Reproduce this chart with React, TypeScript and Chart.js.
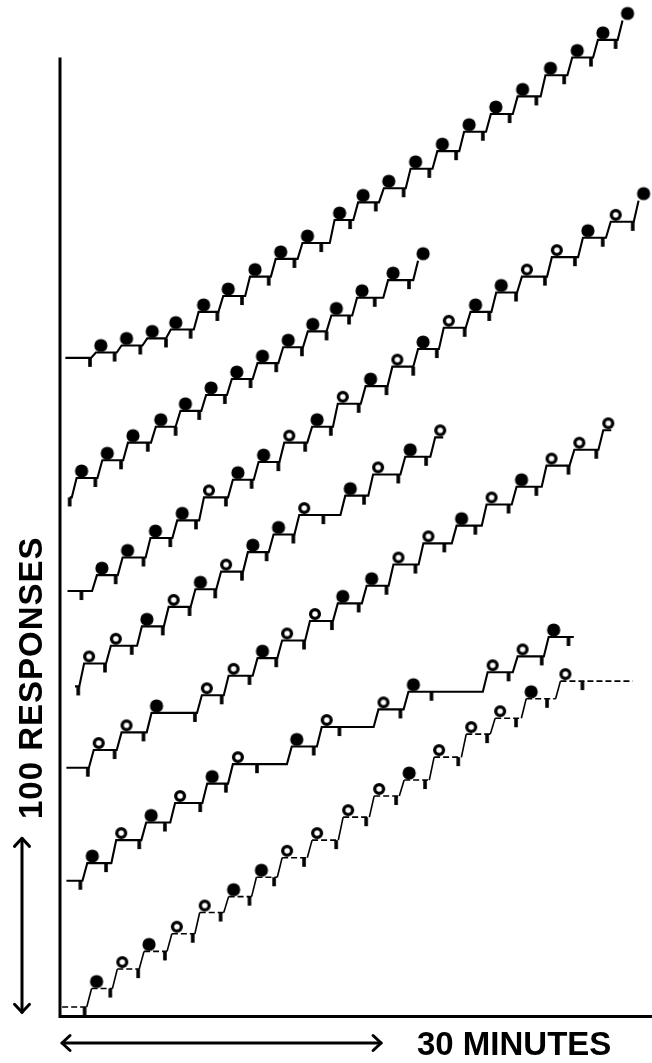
import React, { useEffect, useRef } from 'react';
import { Chart, registerables } from 'chart.js';

Chart.register(...registerables);

// ---- Cumulative records: time in minutes, cumulative responses ----
// Each record: start point, then steps (rise start time, level after rise, marker kind), pips (time)
const START_X = [0.5, 0.9, 0.7, 1.4, 0.6, 0.6, 0.2];
const START_LEVEL = [372, 293, 240, 186, 140, 76, 4.5];
const START_PIP = [2.8, 0.9, 2.0, 1.7, 2.6, 1.9, 2.3];
const END_X = [null, null, null, 35.8, 51.5, 48.0, 53.5];
const RISE_MIN = 0.45;

const riseA = [2.9, 5.3, 7.7, 9.9, 12.5, 14.8, 17.3, 19.7, 22.2, 25.2, 27.4, 29.8, 32.3, 34.8, 37.3, 39.8, 42.3, 44.9, 47.4, 49.8, 52.1];
const levelA = [375, 379, 383, 388, 398, 407, 418, 428, 437, 450, 460, 468, 479, 489, 500, 510, 520, 532, 542, 552, 563];
const markA = ['F', 'F', 'F', 'F', 'F', 'F', 'F', 'F', 'F', 'F', 'F', 'F', 'F', 'F', 'F', 'F', 'F', 'F', 'F', 'F', 'F'];
const pipA = [5.1, 7.5, 9.9, 12.2, 14.7, 17.0, 19.5, 21.9, 24.4, 27.1, 29.5, 32.1, 34.5, 37.0, 39.5, 42.0, 44.5, 47.1, 49.6, 51.9];

const riseB = [1.1, 3.5, 5.9, 8.5, 10.8, 13.2, 15.6, 18.0, 20.4, 22.7, 24.9, 27.3, 30.2, 33.0];
const levelB = [304, 314, 324, 333, 342, 351, 360, 369, 378, 387, 396, 406, 416, 427];
const markB = ['F', 'F', 'F', 'F', 'F', 'F', 'F', 'F', 'F', 'F', 'F', 'F', 'F', 'F'];
const pipB = [3.3, 5.7, 8.2, 10.8, 13.0, 15.4, 17.8, 20.2, 22.6, 24.9, 27.0, 29.4, 32.6];

const riseC = [3.0, 5.4, 8.0, 10.5, 13.0, 15.7, 18.1, 20.5, 23.1, 25.5, 28.1, 30.6, 33.0, 35.4, 37.9, 40.3, 42.7, 45.5, 48.4, 51.0, 53.6];
const levelC = [249, 259, 270, 280, 293, 303, 313, 324, 333, 346, 356, 367, 377, 389, 398, 409, 418, 429, 440, 449, 461];
const markC = ['F', 'F', 'F', 'F', 'O', 'F', 'F', 'O', 'F', 'O', 'F', 'O', 'F', 'O', 'F', 'F', 'O', 'O', 'F', 'O', 'F'];
const pipC = [5.2, 7.8, 10.3, 12.7, 15.5, 17.9, 20.4, 22.9, 25.3, 27.9, 30.5, 33.0, 35.2, 37.8, 40.1, 42.6, 45.3, 48.1, 50.7, 53.5];

const riseD = [1.8, 4.3, 7.2, 9.7, 12.2, 14.6, 17.1, 19.5, 21.9, 26.2, 28.8, 31.8, 34.6];
const levelD = [199, 209, 220, 231, 241, 251, 262, 272, 283, 294, 306, 316, 327];
const markD = ['O', 'O', 'F', 'O', 'F', 'O', 'F', 'F', 'O', 'F', 'O', 'F', 'O'];
const pipD = [4.2, 6.7, 9.6, 12.1, 14.5, 17.0, 19.3, 21.8, 24.6, 28.4, 31.6, 34.2];

const riseE = [2.7, 5.3, 8.1, 12.8, 15.3, 18.0, 20.3, 22.9, 25.5, 28.2, 30.7, 33.5, 36.6, 39.4, 42.2, 45.0, 47.6, 50.3];
const levelE = [150, 160, 171, 181, 192, 202, 212, 223, 233, 243, 255, 267, 277, 289, 299, 311, 320, 331];
const markE = ['O', 'O', 'F', 'O', 'O', 'F', 'O', 'O', 'F', 'F', 'O', 'O', 'F', 'O', 'F', 'O', 'O', 'O'];
const pipE = [5.1, 7.8, 12.6, 15.1, 17.7, 20.2, 22.8, 25.4, 27.9, 30.5, 33.2, 35.9, 38.8, 41.9, 44.5, 47.5, 50.1];

const riseF = [2.1, 4.8, 7.6, 10.3, 13.3, 15.7, 21.2, 24.0, 29.3, 32.1, 39.5, 42.3, 45.2];
const levelF = [86, 99, 109, 120, 131, 142, 152, 163, 173, 183, 194, 203, 214];
const markF = ['F', 'O', 'F', 'O', 'F', 'O', 'F', 'O', 'O', 'F', 'O', 'O', 'F'];
const pipF = [4.3, 7.4, 9.8, 13.1, 15.5, 18.4, 23.7, 26.1, 31.8, 34.7, 41.9, 45.0, 47.5];

const riseG = [2.5, 4.9, 7.4, 10.0, 12.6, 15.3, 17.9, 20.3, 23.1, 26.0, 28.9, 31.7, 34.5, 37.5, 40.2, 43.1, 46.3];
const levelG = [15, 26, 36, 46, 58, 67, 78, 89, 99, 112, 124, 133, 146, 159, 168, 179, 189];
const markG = ['F', 'O', 'F', 'O', 'O', 'F', 'F', 'O', 'O', 'O', 'O', 'F', 'O', 'O', 'O', 'F', 'O'];
const pipG = [4.7, 7.3, 9.8, 12.4, 15.0, 17.7, 20.0, 22.8, 25.8, 28.6, 31.4, 34.1, 37.2, 39.9, 42.6, 45.5, 48.8];

const RISES = [riseA, riseB, riseC, riseD, riseE, riseF, riseG];
const LEVELS = [levelA, levelB, levelC, levelD, levelE, levelF, levelG];
const MARKS = [markA, markB, markC, markD, markE, markF, markG];
const PIPS = [pipA, pipB, pipC, pipD, pipE, pipF, pipG];

// axis extents
const X_MAX = 54.65; // minutes
const Y_MAX = 570.6; // responses
const AXIS_TOP = 542; // top of response axis line
const SCALE_MIN = 30;
const SCALE_RESP = 100;

type Pt = { x: number; y: number };

function buildRecord(i: number) {
  const rise = RISES[i], level = LEVELS[i], mark = MARKS[i], pip = PIPS[i];
  const line: Pt[] = [{ x: START_X[i], y: START_LEVEL[i] }];
  const filled: Pt[] = [];
  const open: Pt[] = [];
  const pips: Pt[] = [{ x: START_PIP[i], y: START_LEVEL[i] }];
  let prev = START_LEVEL[i];
  for (let k = 0; k < rise.length; k++) {
    line.push({ x: rise[k], y: prev });
    line.push({ x: rise[k] + RISE_MIN, y: level[k] });
    (mark[k] === 'F' ? filled : open).push({ x: rise[k] + RISE_MIN, y: level[k] });
    if (pip[k] !== undefined) pips.push({ x: pip[k], y: level[k] });
    prev = level[k];
  }
  const e = END_X[i];
  if (e !== null) line.push({ x: e, y: prev });
  return { line, filled, open, pips };
}

function makeMarker(filled: boolean): HTMLCanvasElement {
  const c = document.createElement('canvas');
  c.width = 40;
  c.height = 40;
  const g = c.getContext('2d')!;
  g.beginPath();
  if (filled) {
    g.arc(25, 13, 6.6, 0, Math.PI * 2);
    g.fillStyle = '#000';
    g.fill();
  } else {
    g.arc(25, 13, 4.4, 0, Math.PI * 2);
    g.fillStyle = '#fff';
    g.fill();
    g.lineWidth = 3.3;
    g.strokeStyle = '#000';
    g.stroke();
  }
  return c;
}

function makePip(): HTMLCanvasElement {
  const c = document.createElement('canvas');
  c.width = 8;
  c.height = 24;
  const g = c.getContext('2d')!;
  g.fillStyle = '#000';
  g.fillRect(2.2, 12, 3.6, 9);
  return c;
}

function arrowHead(ctx: CanvasRenderingContext2D, x: number, y: number, ang: number) {
  const L = 11;
  const spread = 0.75;
  ctx.beginPath();
  ctx.moveTo(x - L * Math.cos(ang - spread), y - L * Math.sin(ang - spread));
  ctx.lineTo(x, y);
  ctx.lineTo(x - L * Math.cos(ang + spread), y - L * Math.sin(ang + spread));
  ctx.stroke();
}

const decorPlugin = {
  id: 'decor',
  afterDraw(chart: any) {
    const ctx: CanvasRenderingContext2D = chart.ctx;
    const xs = chart.scales.x;
    const ys = chart.scales.y;
    const x0 = xs.getPixelForValue(0);
    const y0 = ys.getPixelForValue(0);
    ctx.save();
    ctx.strokeStyle = '#000';
    ctx.fillStyle = '#000';
    ctx.lineCap = 'butt';
    // axes
    ctx.lineWidth = 3;
    ctx.beginPath();
    ctx.moveTo(x0, ys.getPixelForValue(AXIS_TOP));
    ctx.lineTo(x0, y0 + 1.5);
    ctx.lineTo(chart.width, y0 + 1.5);
    ctx.stroke();

    // horizontal scale arrow (30 minutes)
    const ay = y0 + 28;
    const ax1 = xs.getPixelForValue(0) + 2;
    const ax2 = xs.getPixelForValue(SCALE_MIN);
    ctx.lineWidth = 3;
    ctx.lineCap = 'round';
    ctx.lineJoin = 'round';
    ctx.beginPath();
    ctx.moveTo(ax1, ay);
    ctx.lineTo(ax2, ay);
    ctx.stroke();
    arrowHead(ctx, ax1, ay, Math.PI);
    arrowHead(ctx, ax2, ay, 0);
    ctx.font = 'bold 33px "Liberation Sans", Arial, sans-serif';
    ctx.textBaseline = 'alphabetic';
    ctx.textAlign = 'left';
    (ctx as any).letterSpacing = '0px';
    ctx.fillText('30 MINUTES', 417, ay + 12);

    // vertical scale arrow (100 responses)
    const vx = 22;
    const vy1 = ys.getPixelForValue(1.5);
    const vy2 = ys.getPixelForValue(SCALE_RESP);
    ctx.beginPath();
    ctx.moveTo(vx, vy1);
    ctx.lineTo(vx, vy2);
    ctx.stroke();
    arrowHead(ctx, vx, vy1, Math.PI / 2);
    arrowHead(ctx, vx, vy2, -Math.PI / 2);
    ctx.save();
    ctx.translate(42, 819);
    ctx.rotate(-Math.PI / 2);
    (ctx as any).letterSpacing = '1px';
    ctx.fillText('100 RESPONSES', 0, 0);
    ctx.restore();
    ctx.restore();
  },
};

export default function App() {
  const ref = useRef<HTMLCanvasElement | null>(null);
  useEffect(() => {
    document.body.style.margin = '0';
    const canvas = ref.current!;
    const filledImg = makeMarker(true);
    const openImg = makeMarker(false);
    const pipImg = makePip();
    const datasets: any[] = [];
    for (let i = 0; i < RISES.length; i++) {
      const r = buildRecord(i);
      const isLast = i === RISES.length - 1;
      datasets.push({
        label: 'record ' + (i + 1),
        data: r.line,
        showLine: true,
        borderColor: '#000',
        borderWidth: isLast ? 1.6 : 2.1,
        pointRadius: 0,
        tension: 0,
        fill: false,
        clip: false,
        order: 3,
        segment: isLast
          ? { borderDash: (c: any) => (c.p0.parsed.y === c.p1.parsed.y ? [6, 3] : undefined) }
          : undefined,
      });
      datasets.push({
        label: 'pips ' + (i + 1),
        data: r.pips,
        pointStyle: pipImg,
        pointRadius: 4,
        clip: false,
        order: 2,
      });
      datasets.push({
        label: 'filled ' + (i + 1),
        data: r.filled,
        pointStyle: filledImg,
        pointRadius: 6,
        clip: false,
        order: 1,
      });
      datasets.push({
        label: 'open ' + (i + 1),
        data: r.open,
        pointStyle: openImg,
        pointRadius: 6,
        clip: false,
        order: 1,
      });
    }
    const chart = new Chart(canvas, {
      type: 'scatter',
      data: { datasets },
      options: {
        animation: false,
        responsive: false,
        devicePixelRatio: 1,
        events: [],
        layout: { padding: { left: 60, right: 0, top: 5, bottom: 48 } },
        plugins: { legend: { display: false }, tooltip: { enabled: false } },
        scales: {
          x: { type: 'linear', min: 0, max: X_MAX, display: false },
          y: { type: 'linear', min: 0, max: Y_MAX, display: false },
        },
      },
      plugins: [decorPlugin],
    });
    return () => chart.destroy();
  }, []);
  return (
    <div style={{ width: 652, height: 1063, background: '#fff' }}>
      <canvas ref={ref} width={652} height={1063} style={{ display: 'block', width: 652, height: 1063 }} />
    </div>
  );
}
